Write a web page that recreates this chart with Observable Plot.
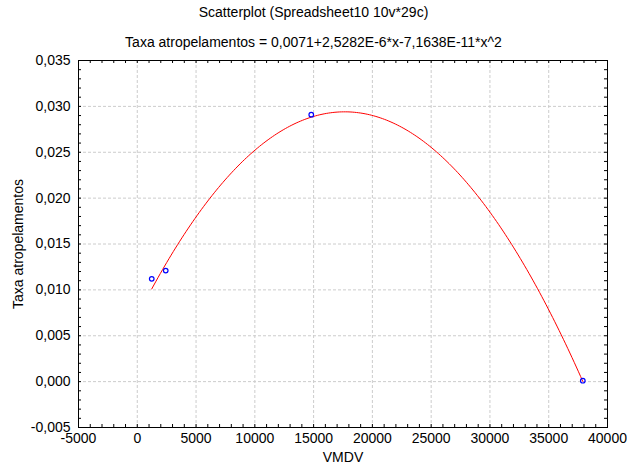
<!DOCTYPE html>
<html><head><meta charset="utf-8">
<script src="https://cdn.jsdelivr.net/npm/d3@7"></script>
<script src="https://cdn.jsdelivr.net/npm/@observablehq/plot@0.6"></script>
<style>
body{margin:0;background:#fff;font-family:"Liberation Sans",Arial,sans-serif;}
#wrap{position:relative;width:627px;height:466px;}
.t{position:absolute;left:0;width:627px;text-align:center;font-size:14px;color:#000;line-height:16px;}
#chart{position:absolute;left:0;top:0;}
</style></head><body>
<div id="wrap">
<div id="chart"></div>
<div class="t" style="top:4px">Scatterplot (Spreadsheet10 10v*29c)</div>
<div class="t" style="top:34px">Taxa atropelamentos = 0,0071+2,5282E-6*x-7,1638E-11*x^2</div>
</div>
<script>
// Data
const vmdv = [1230, 2420, 14800, 37900];
const taxa = [0.0112, 0.0121, 0.0291, 0.0001];
// Fitted quadratic coefficients (from the subtitle)
const coef = [0.0071, 2.5282e-6, -7.1638e-11];
const xTicks = [-5000, 0, 5000, 10000, 15000, 20000, 25000, 30000, 35000, 40000];
const yTicks = [-0.005, 0, 0.005, 0.010, 0.015, 0.020, 0.025, 0.030, 0.035];
const xDomain = [-5000, 40000];
const yDomain = [-0.005, 0.035];
const xMinor = d3.range(-5000, 40001, 1000);
const yMinor = d3.range(-5, 36).map(d => d / 1000);

const points = vmdv.map((x, i) => ({x, y: taxa[i]}));
const x0 = d3.min(vmdv), x1 = d3.max(vmdv), n = 200;
const curve = d3.range(n + 1).map(i => {
  const x = x0 + (x1 - x0) * i / n;
  return {x, y: coef[0] + coef[1] * x + coef[2] * x * x};
});

const loc = d3.formatLocale({decimal: ",", thousands: "", grouping: [3], currency: ["", ""], minus: "-"});
const yFmt = loc.format(".3f");
const xFmt = loc.format("d");

const gridX = xTicks.slice(1, -1);
const gridY = yTicks.slice(1, -1);
const grid = {stroke: "#cccccc", strokeWidth: 1, strokeDasharray: "3,2", strokeOpacity: 1};
const tk = 3;

const chart = Plot.plot({
  width: 627, height: 466,
  marginLeft: 78, marginRight: 20, marginTop: 60, marginBottom: 39,
  style: {fontFamily: '"Liberation Sans", Arial, sans-serif', fontSize: "14px", color: "#000", background: "#fff"},
  x: {domain: xDomain},
  y: {domain: yDomain},
  marks: [
    Plot.ruleX(gridX, {x: d => d, ...grid}),
    Plot.ruleY(gridY, {y: d => d, ...grid}),
    // inward ticks
    Plot.ruleX(xMinor, {x: d => d, y1: yDomain[0], y2: yDomain[0], insetBottom: tk, stroke: "#000"}),
    Plot.ruleX(xMinor, {x: d => d, y1: yDomain[1], y2: yDomain[1], insetTop: tk, stroke: "#000"}),
    Plot.ruleY(yMinor, {y: d => d, x1: xDomain[0], x2: xDomain[0], insetRight: -tk, stroke: "#000"}),
    Plot.ruleY(yMinor, {y: d => d, x1: xDomain[1], x2: xDomain[1], insetRight: tk, stroke: "#000"}),
    Plot.frame({stroke: "#000", strokeWidth: 1}),
    Plot.axisX(xTicks, {tickSize: 0, tickPadding: 6, tickFormat: xFmt, label: "VMDV", labelAnchor: "center", labelArrow: "none", labelOffset: 34, fill: "#000"}),
    Plot.axisY(yTicks, {tickSize: 0, tickPadding: 8, tickFormat: yFmt, label: "Taxa atropelamentos", labelAnchor: "center", labelArrow: "none", labelOffset: 65, fill: "#000"}),
    Plot.line(curve, {x: "x", y: "y", stroke: "#ff0000", strokeWidth: 1}),
    Plot.dot(points, {x: "x", y: "y", r: 2.3, stroke: "#0000ff", strokeWidth: 1.2, fill: "none"})
  ]
});
document.getElementById("chart").appendChild(chart);
</script>
</body></html>
